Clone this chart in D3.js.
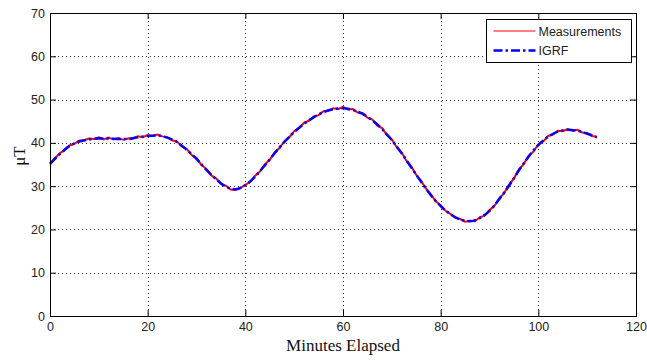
<!DOCTYPE html>
<html>
<head>
<meta charset="utf-8">
<script src="https://cdn.jsdelivr.net/npm/d3@7"></script>
<style>
    body { margin: 0; background: #fff; }
    svg { display: block; }
</style>
</head>
<body>
<div id="chart"></div>
<script>
"use strict"

// IGRF model field, read every 2 minutes
const igrf_minutes = [0, 2, 4, 6, 8, 10, 12, 14, 16, 18, 20, 22, 24, 26, 28, 30, 32, 34, 36, 38,
    40, 42, 44, 46, 48, 50, 52, 54, 56, 58, 60, 62, 64, 66, 68, 70, 72, 74, 76, 78,
    80, 82, 84, 86, 88, 90, 92, 94, 96, 98, 100, 102, 104, 106, 108, 110, 112];
const igrf_values = [35.2, 37.4, 39.3, 40.3, 40.8, 41.0, 41.0, 40.9, 40.9, 41.3, 41.6, 41.7, 41.2, 40.2, 38.4, 36.3, 33.8, 31.6, 29.9, 29.3,
    30.2, 32.2, 34.8, 37.6, 40.2, 42.5, 44.4, 45.9, 47.1, 47.8, 48.0, 47.6, 46.7, 45.2, 43.2, 40.6, 37.6, 34.3, 31.0, 27.9,
    25.4, 23.5, 22.3, 21.9, 22.6, 24.3, 27.0, 30.1, 33.6, 36.8, 39.5, 41.4, 42.6, 43.0, 42.8, 42.1, 41.3];

// magnetometer measurements, read every minute
const meas_minutes = d3.range(0, 113);
const meas_values = [35.0, 36.4, 37.6, 38.3, 39.4, 39.8, 40.5, 40.6, 41.0, 40.9,
    41.3, 40.8, 41.2, 40.8, 41.1, 40.7, 41.0, 41.1, 41.5, 41.3,
    41.8, 41.6, 41.9, 41.5, 41.3, 40.6, 40.3, 39.2, 38.6, 37.2,
    36.5, 34.9, 34.0, 32.5, 31.8, 30.5, 30.1, 29.2, 29.1, 29.6,
    30.3, 31.0, 32.4, 33.4, 35.0, 36.1, 37.8, 38.8, 40.4, 41.3,
    42.7, 43.4, 44.6, 45.1, 46.1, 46.4, 47.3, 47.4, 48.0, 47.8,
    48.3, 47.7, 47.8, 47.0, 46.9, 45.8, 45.4, 44.0, 43.4, 41.8,
    40.8, 39.0, 37.8, 35.8, 34.5, 32.6, 31.2, 29.4, 28.1, 26.5,
    25.6, 24.3, 23.6, 22.7, 22.4, 21.8, 22.0, 21.9, 22.8, 23.2,
    24.5, 25.4, 27.2, 28.4, 30.3, 31.8, 33.8, 35.1, 37.0, 38.0,
    39.7, 40.3, 41.6, 41.9, 42.8, 42.7, 43.2, 42.8, 43.0, 42.4,
    42.3, 41.6, 41.4];

const x_ticks = [0, 20, 40, 60, 80, 100, 120];
const y_ticks = [0, 10, 20, 30, 40, 50, 60, 70];
const legend_labels = ["Measurements", "IGRF"];

class FieldChart {

    constructor(div_id) {
        let parent = this;

        parent.div_id = div_id;
        parent.width = 647;
        parent.height = 360;

        parent.margin = { top: 13, right: 11, bottom: 44, left: 50 };

        parent.meas_color = 'rgb(255, 0, 0)';
        parent.igrf_color = 'rgb(0, 0, 255)';
        parent.igrf_dash = '9,3,2.5,3';
        parent.tick_font = '"Liberation Sans", Arial, sans-serif';
        parent.label_font = '"Liberation Serif", "Times New Roman", serif';
    }

    init(parent) {
        parent.inner_w = parent.width - parent.margin.left - parent.margin.right;
        parent.inner_h = parent.height - parent.margin.top - parent.margin.bottom;

        parent.x = d3.scaleLinear().domain([0, 120]).range([0, parent.inner_w]);
        parent.y = d3.scaleLinear().domain([0, 70]).range([parent.inner_h, 0]);

        parent.svg = d3.select('#' + parent.div_id)
            .append('svg')
            .attr('width', parent.width)
            .attr('height', parent.height);

        parent.plot = parent.svg.append('g')
            .attr('transform', 'translate(' + parent.margin.left + ',' + parent.margin.top + ')');

        parent.draw_grid(parent);
        parent.draw_lines(parent);
        parent.draw_axes(parent);
        parent.draw_legend(parent);
        parent.draw_labels(parent);
    }

    //dotted grid lines, matlab style
    draw_grid(parent) {
        const grid = parent.plot.append('g').attr('class', 'grid');

        grid.selectAll('.vgrid')
            .data(x_ticks)
            .enter()
            .append('line')
            .attr('x1', d => Math.round(parent.x(d)) + 0.5)
            .attr('x2', d => Math.round(parent.x(d)) + 0.5)
            .attr('y1', 0)
            .attr('y2', parent.inner_h)
            .attr('stroke', '#333')
            .attr('stroke-dasharray', '1,3');

        grid.selectAll('.hgrid')
            .data(y_ticks)
            .enter()
            .append('line')
            .attr('x1', 0)
            .attr('x2', parent.inner_w)
            .attr('y1', d => Math.round(parent.y(d)) + 0.5)
            .attr('y2', d => Math.round(parent.y(d)) + 0.5)
            .attr('stroke', '#333')
            .attr('stroke-dasharray', '1,3');
    }

    draw_lines(parent) {
        //measurements: plain polyline so the noise shows
        const meas_line = d3.line()
            .x((d, i) => parent.x(meas_minutes[i]))
            .y(d => parent.y(d));

        parent.plot.append('path')
            .datum(meas_values)
            .attr('fill', 'none')
            .attr('stroke', parent.meas_color)
            .attr('stroke-width', 2)
            .attr('d', meas_line);

        //igrf: smooth dash-dot curve drawn on top
        const igrf_line = d3.line()
            .x((d, i) => parent.x(igrf_minutes[i]))
            .y(d => parent.y(d))
            .curve(d3.curveMonotoneX);

        parent.plot.append('path')
            .datum(igrf_values)
            .attr('fill', 'none')
            .attr('stroke', parent.igrf_color)
            .attr('stroke-width', 2.5)
            .attr('stroke-dasharray', parent.igrf_dash)
            .attr('d', igrf_line);
    }

    //box axes with ticks pointing inwards on all four sides
    draw_axes(parent) {
        const tick_len = 6;

        const style_axis = (g) => {
            g.select('.domain').remove();
            g.selectAll('.tick line').attr('stroke', '#000');
            g.selectAll('.tick text')
                .attr('fill', '#222')
                .style('font-family', parent.tick_font)
                .style('font-size', '12.5px');
        };

        parent.plot.append('g')
            .attr('transform', 'translate(0,' + parent.inner_h + ')')
            .call(d3.axisBottom(parent.x).tickValues(x_ticks).tickSizeInner(-tick_len).tickSizeOuter(0).tickPadding(6))
            .call(style_axis);

        parent.plot.append('g')
            .call(d3.axisTop(parent.x).tickValues(x_ticks).tickSizeInner(-tick_len).tickSizeOuter(0).tickFormat(''))
            .call(style_axis);

        parent.plot.append('g')
            .call(d3.axisLeft(parent.y).tickValues(y_ticks).tickSizeInner(-tick_len).tickSizeOuter(0).tickPadding(5))
            .call(style_axis);

        parent.plot.append('g')
            .attr('transform', 'translate(' + parent.inner_w + ',0)')
            .call(d3.axisRight(parent.y).tickValues(y_ticks).tickSizeInner(-tick_len).tickSizeOuter(0).tickFormat(''))
            .call(style_axis);

        //frame
        parent.plot.append('rect')
            .attr('x', 0.5)
            .attr('y', 0.5)
            .attr('width', parent.inner_w)
            .attr('height', parent.inner_h)
            .attr('fill', 'none')
            .attr('stroke', '#000')
            .attr('stroke-width', 1);
    }

    draw_legend(parent) {
        const legend = parent.svg.append('g')
            .attr('transform', 'translate(486.5,19.5)');

        legend.append('rect')
            .attr('width', 145)
            .attr('height', 43)
            .attr('fill', '#fff')
            .attr('stroke', '#000');

        const entries = legend.selectAll('.entry')
            .data(legend_labels)
            .enter()
            .append('g')
            .attr('transform', (d, i) => 'translate(0,' + (11.5 + i * 19.5) + ')');

        entries.append('line')
            .attr('x1', 7)
            .attr('x2', 49)
            .attr('y1', 0)
            .attr('y2', 0)
            .attr('stroke', (d, i) => i == 0 ? parent.meas_color : parent.igrf_color)
            .attr('stroke-width', (d, i) => i == 0 ? 1.2 : 2.5)
            .attr('stroke-dasharray', (d, i) => i == 0 ? null : parent.igrf_dash);

        entries.append('text')
            .attr('x', 52)
            .attr('y', 4.5)
            .attr('fill', '#222')
            .style('font-family', parent.tick_font)
            .style('font-size', '12.5px')
            .text(d => d);
    }

    draw_labels(parent) {
        parent.svg.append('text')
            .attr('x', parent.margin.left + parent.inner_w / 2)
            .attr('y', 351)
            .attr('text-anchor', 'middle')
            .attr('fill', '#111')
            .style('font-family', parent.label_font)
            .style('font-size', '17px')
            .text('Minutes Elapsed');

        parent.svg.append('text')
            .attr('transform', 'translate(25,156) rotate(-90)')
            .attr('text-anchor', 'middle')
            .attr('fill', '#111')
            .style('font-family', parent.label_font)
            .style('font-size', '17px')
            .text('\u03bcT');
    }
}

const field_chart = new FieldChart('chart');
field_chart.init(field_chart);
</script>
</body>
</html>
